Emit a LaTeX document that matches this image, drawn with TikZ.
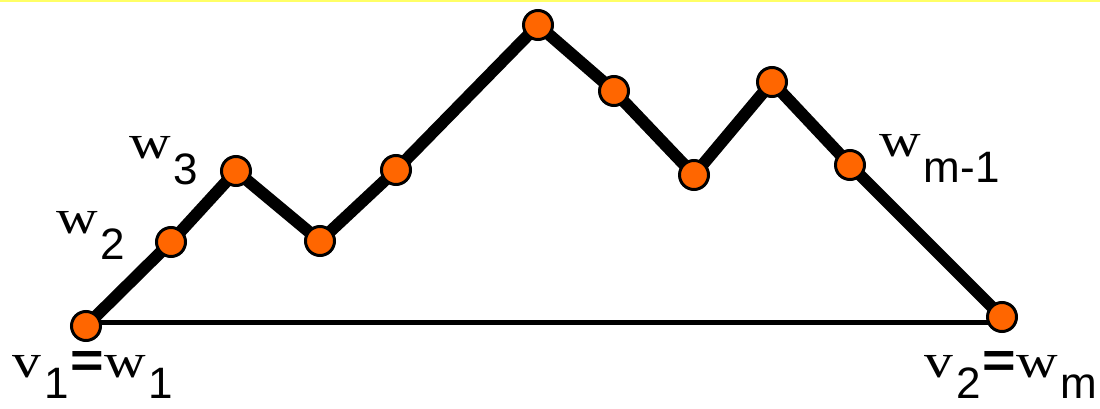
\documentclass[tikz,border=0pt]{standalone}
\usepackage{fontspec}
\usepackage{graphicx}
\newfontfamily\serf{Liberation Serif}
\newfontfamily\sanf{Liberation Sans}
\definecolor{vorange}{HTML}{FF6600}
\definecolor{topyellow}{HTML}{FFFF66}
\newcommand{\mainl}[1]{\scalebox{1.2}[1]{\serf\fontsize{48}{48}\selectfont #1}}
\newcommand{\subl}[2][26pt]{\kern3pt\raisebox{-#1}{\sanf\fontsize{44}{44}\selectfont #2}}
\newcommand{\eql}{\kern2pt\scalebox{1.15}[1]{\sanf\bfseries\fontsize{50}{50}\selectfont =}\kern0pt}
\tikzset{
  x=1pt, y=-1pt,
  vtx/.style={circle, draw=black, line width=3pt, fill=vorange, minimum size=29pt, inner sep=0pt},
  pathedge/.style={line width=12pt, line cap=round, line join=round},
  baseedge/.style={line width=5pt},
  lbl/.style={anchor=base west, inner sep=0pt}
}
\begin{document}
\begin{tikzpicture}
\useasboundingbox (0,0) rectangle (1100,409);
\fill[topyellow] (0,0) rectangle (1100,2.5);
\coordinate (p1) at (86,326);
\coordinate (p2) at (171,242);
\coordinate (p3) at (236,171);
\coordinate (p4) at (320,241);
\coordinate (p5) at (396,170);
\coordinate (p6) at (538,25);
\coordinate (p7) at (614,91);
\coordinate (p8) at (694,175);
\coordinate (p9) at (772,82);
\coordinate (p10) at (850,165);
\coordinate (p11) at (1002,317);
\coordinate (b1) at (86,322);
\coordinate (b2) at (1002,322);
\draw[baseedge] (b1) -- (b2);
\draw[pathedge] (p1) -- (p2) -- (p3) -- (p4) -- (p5) -- (p6) -- (p7) -- (p8) -- (p9) -- (p10) -- (p11);
\foreach \i in {1,...,11} { \node[vtx] (n\i) at (p\i) {}; }
\node[lbl] (l1) at (12,377) {\mainl{v}\subl[21pt]{1}\eql\mainl{w}\subl[21pt]{1}};
\node[lbl] (l2) at (924,377) {\mainl{v}\subl[21pt]{2}\eql\mainl{w}\subl[21pt]{m}};
\node[lbl] (l3) at (56,233) {\mainl{w}\subl{2}};
\node[lbl] (l4) at (129,158) {\mainl{w}\subl{3}};
\node[lbl] (l5) at (879,157) {\mainl{w}\subl{m-1}};
\end{tikzpicture}
\end{document}
